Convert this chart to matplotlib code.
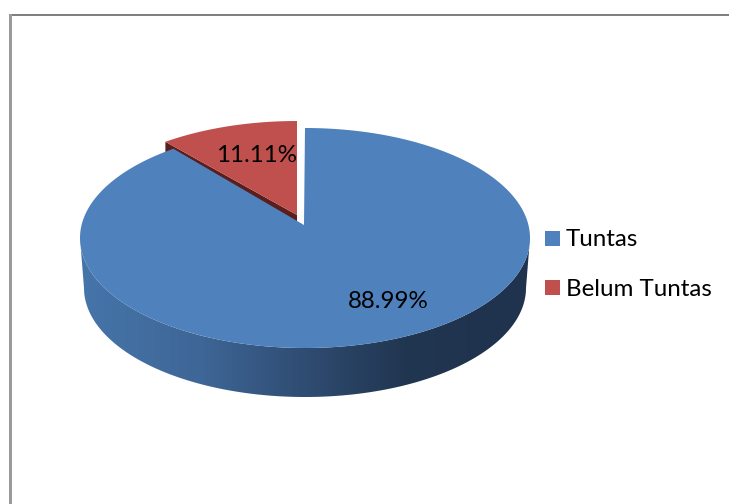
import numpy as np
import matplotlib
matplotlib.use("Agg")
import matplotlib.pyplot as plt
from matplotlib.colors import LinearSegmentedColormap
from matplotlib.patches import Polygon, Rectangle

categories = ["Tuntas", "Belum Tuntas"]
percent_values = [88.99, 11.11]
percent_labels = ["88.99%", "11.11%"]
slice_colors = ["#4F81BD", "#C0504D"]

FONT = "Lato"
FS = 17.4
W, H = 729, 504
fig = plt.figure(figsize=(W / 100, H / 100), dpi=100)
ax = fig.add_axes([0, 0, 1, 1])
ax.set_xlim(0, W)
ax.set_ylim(H, 0)
ax.axis("off")

# chart-area frame
ax.add_patch(Rectangle((9, 14), W - 9, 1.6, fc="#808080", lw=0))
ax.add_patch(Rectangle((9, 14), 3, H - 14, fc="#9a9a9a", lw=0))

PERSPECTIVE = 0.895  # foreshortening of the sweep angle near the back rim


def rim(cx, cy, rx, ry, t):
    t = np.radians(t)
    return np.column_stack([cx + rx * np.sin(t), cy - ry * np.cos(t)])


# blue slice geometry
bc = (305, 238, 225, 110)
b_apex = (304, 225)
side_drop = 50
red_sweep = percent_values[1] / 100 * 360 * PERSPECTIVE

# side wall with gradient
t_front = np.linspace(90, 270, 200)
upper = rim(*bc, t_front)
lower = rim(305, 238 + side_drop, 221, 109, t_front[::-1])
side_pts = np.vstack([upper, lower])
side = Polygon(side_pts, closed=True, fc="none", lw=0)
ax.add_patch(side)
cmap = LinearSegmentedColormap.from_list(
    "side",
    [(0, "#4675AA"), (0.27, "#3E6696"), (0.5, "#2F4C72"), (0.72, "#213651"), (1, "#1F324E")],
)
im = ax.imshow(
    np.linspace(0, 1, 256)[None, :], cmap=cmap, aspect="auto",
    extent=(80, 530, 397, 200), zorder=1,
)
im.set_clip_path(side)
ax.set_xlim(0, W)
ax.set_ylim(H, 0)

# red slice: dark cut face then top
r_c = (297, 231, 225, 110)
r_apex = np.array([297, 215])
r_t = np.linspace(360 - red_sweep, 360, 80)
r_arc = rim(*r_c, r_t)
edge = r_arc[0]
ax.add_patch(Polygon([edge, r_apex, r_apex + [0, 7], edge + [0, 12]],
                     fc="#5A1F1C", lw=0, zorder=2))
ax.add_patch(Polygon(np.vstack([r_apex, r_arc]), fc=slice_colors[1], lw=0, zorder=2))

# blue slice top
b_t = np.linspace(0, 360 - red_sweep, 500)
ax.add_patch(Polygon(np.vstack([b_apex, rim(*bc, b_t)]), fc=slice_colors[0], lw=0, zorder=3))

# data labels
ax.text(388, 302, percent_labels[0], ha="center", va="center", fontsize=FS, family=FONT, color="black", zorder=5)
ax.text(257, 155, percent_labels[1], ha="center", va="center", fontsize=FS, family=FONT, color="black", zorder=5)

# legend
for name, color, y in zip(categories, slice_colors, (231, 280)):
    ax.add_patch(Rectangle((545, y), 15, 15, fc=color, lw=0))
    ax.text(566, y + 9, name, ha="left", va="center", fontsize=FS, family=FONT, color="black")

fig.savefig("out.png", dpi=100)
